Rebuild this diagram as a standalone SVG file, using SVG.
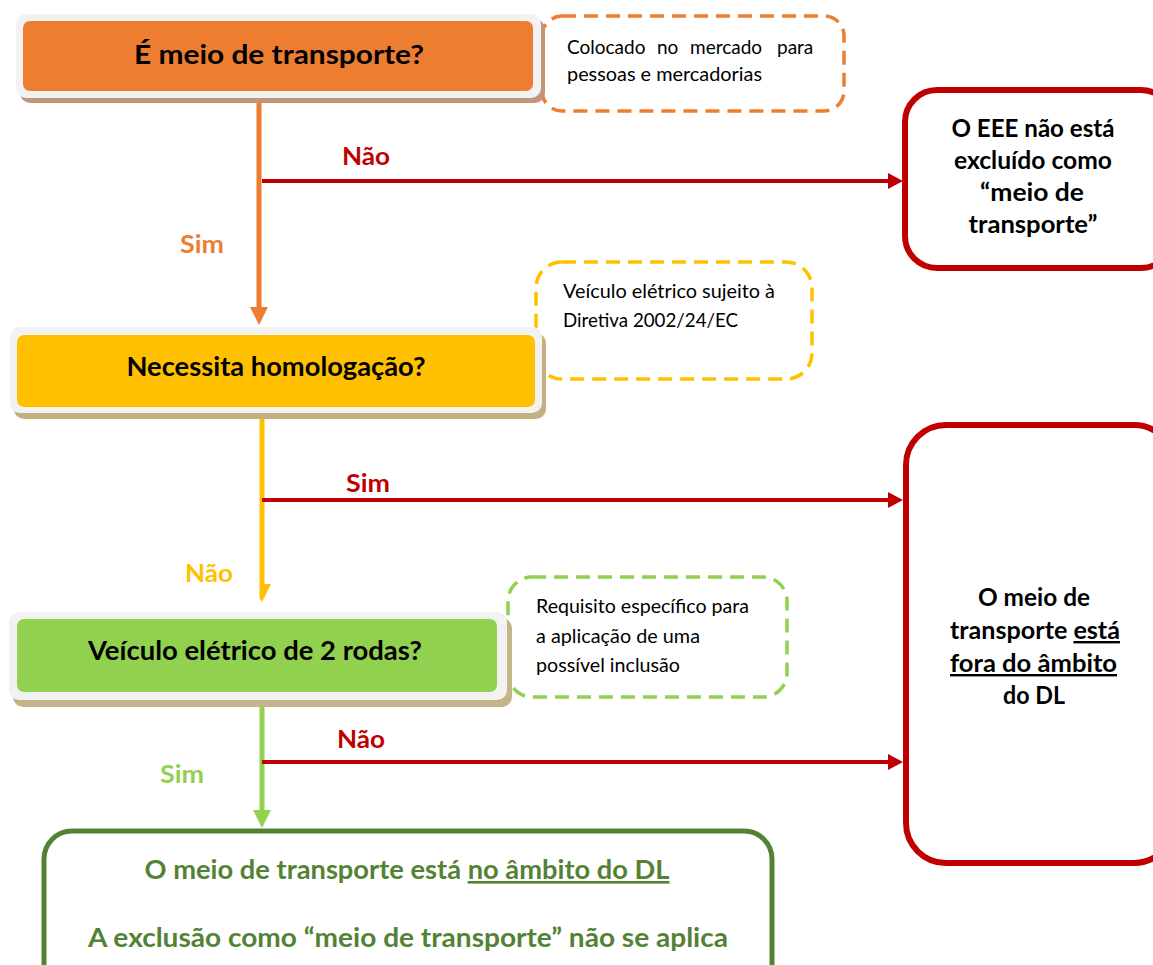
<svg xmlns="http://www.w3.org/2000/svg" width="1153" height="965" viewBox="0 0 1153 965">
<style>
.b{font-family:Lato,"Open Sans","Liberation Sans",sans-serif;font-weight:bold;}
.r{font-family:Lato,"Open Sans","Liberation Sans",sans-serif;font-weight:normal;font-size:19px;fill:#000;}
.title{font-size:26px;fill:#000;text-anchor:middle;}
.res{font-size:24px;fill:#000;text-anchor:middle;}
.lab{font-size:25px;text-anchor:middle;}
.fin{font-size:26px;fill:#548235;text-anchor:middle;}
.call{fill:none;stroke-width:3.5;stroke-dasharray:14 8;}
.frame{fill:#F2F2F2;}
.redbox{fill:#fff;stroke:#C00000;stroke-width:6;}
.red{stroke:#C00000;stroke-width:4;fill:none;}
.u{text-decoration:underline;}
</style>
<defs>
<marker id="arR" markerUnits="userSpaceOnUse" markerWidth="15" markerHeight="16" refX="2" refY="8" orient="auto"><path d="M0,0 L15,8 L0,16 Z" fill="#C00000"/></marker>
<marker id="arO" markerUnits="userSpaceOnUse" markerWidth="18" markerHeight="18" refX="2" refY="9" orient="auto"><path d="M0,0 L18,9 L0,18 Z" fill="#ED7D31"/></marker>
<marker id="arG" markerUnits="userSpaceOnUse" markerWidth="18" markerHeight="18" refX="2" refY="9" orient="auto"><path d="M0,0 L18,9 L0,18 Z" fill="#92D050"/></marker>
</defs>
<rect width="1153" height="965" fill="#fff"/>

<g id="note1">
<rect class="call" x="542" y="16" width="302" height="95" rx="20" stroke="#ED7D31"/>
<text class="r"><tspan x="567" y="54">Colocado</tspan><tspan x="657" y="54">no</tspan><tspan x="690" y="54">mercado</tspan><tspan x="777" y="54">para</tspan><tspan x="567" y="81" textLength="195" lengthAdjust="spacingAndGlyphs">pessoas e mercadorias</tspan></text>
</g>
<g id="note2">
<rect class="call" x="536" y="262" width="276" height="117" rx="26" stroke="#FFC000"/>
<text class="r" x="563" y="298" textLength="212" lengthAdjust="spacingAndGlyphs">Veículo elétrico sujeito à</text>
<text class="r" x="563" y="327" textLength="175" lengthAdjust="spacingAndGlyphs">Diretiva 2002/24/EC</text>
</g>
<g id="note3">
<rect class="call" x="508" y="577" width="279" height="120" rx="24" stroke="#92D050"/>
<text class="r" x="536" y="613" textLength="213" lengthAdjust="spacingAndGlyphs">Requisito específico para</text>
<text class="r" x="536" y="643" textLength="164" lengthAdjust="spacingAndGlyphs">a aplicação de uma</text>
<text class="r" x="536" y="672" textLength="144" lengthAdjust="spacingAndGlyphs">possível inclusão</text>
</g>

<g id="connectors">
<line x1="259" y1="98" x2="259" y2="309" stroke="#ED7D31" stroke-width="5" marker-end="url(#arO)"/>
<line x1="262" y1="413" x2="262" y2="585" stroke="#FFC000" stroke-width="5"/>
<polygon points="259.5,584 271,584 262,602 259.5,598" fill="#FFC000"/>
<line x1="262" y1="700" x2="262" y2="812" stroke="#92D050" stroke-width="5" marker-end="url(#arG)"/>
<line class="red" x1="262" y1="181" x2="890" y2="181" marker-end="url(#arR)"/>
<line class="red" x1="262" y1="500" x2="890" y2="500" marker-end="url(#arR)"/>
<line class="red" x1="262" y1="762" x2="890" y2="762" marker-end="url(#arR)"/>
<text class="b lab" x="366" y="165" fill="#C00000" textLength="48" lengthAdjust="spacingAndGlyphs">Não</text>
<text class="b lab" x="202" y="253" fill="#ED7D31" textLength="44" lengthAdjust="spacingAndGlyphs">Sim</text>
<text class="b lab" x="368" y="492" fill="#C00000" textLength="44" lengthAdjust="spacingAndGlyphs">Sim</text>
<text class="b lab" x="209" y="582" fill="#FFC000" textLength="48" lengthAdjust="spacingAndGlyphs">Não</text>
<text class="b lab" x="361" y="748" fill="#C00000" textLength="48" lengthAdjust="spacingAndGlyphs">Não</text>
<text class="b lab" x="182" y="783" fill="#92D050" textLength="44" lengthAdjust="spacingAndGlyphs">Sim</text>
</g>

<g id="q1">
<rect x="20" y="19" width="525" height="84" rx="10" fill="#C0967B"/>
<rect class="frame" x="16" y="14" width="525" height="84" rx="10"/>
<rect x="23" y="21" width="510" height="70" rx="7" fill="#ED7D31"/>
<text class="b title" x="279" y="64" textLength="290" lengthAdjust="spacingAndGlyphs">É meio de transporte?</text>
</g>
<g id="q2">
<rect x="14" y="333" width="532" height="86" rx="10" fill="#C4AF7E"/>
<rect class="frame" x="10" y="327" width="532" height="86" rx="10"/>
<rect x="17" y="335" width="518" height="72" rx="7" fill="#FFC000"/>
<text class="b title" x="276" y="376" textLength="299" lengthAdjust="spacingAndGlyphs">Necessita homologação?</text>
</g>
<g id="q3">
<rect x="13" y="618" width="499" height="89" rx="10" fill="#C4B48A"/>
<rect class="frame" x="9" y="612" width="498" height="88" rx="10"/>
<rect x="17" y="619" width="480" height="73" rx="7" fill="#92D050"/>
<text class="b title" x="255" y="660" textLength="334" lengthAdjust="spacingAndGlyphs">Veículo elétrico de 2 rodas?</text>
</g>

<g id="r1">
<rect class="redbox" x="905" y="90" width="268" height="178" rx="32"/>
<text class="b res" x="1033" y="137" textLength="163" lengthAdjust="spacingAndGlyphs">O EEE não está</text>
<text class="b res" x="1033" y="169" textLength="158" lengthAdjust="spacingAndGlyphs">excluído como</text>
<text class="b res" x="1032" y="201" textLength="104" lengthAdjust="spacingAndGlyphs">“meio de</text>
<text class="b res" x="1033" y="233" textLength="129" lengthAdjust="spacingAndGlyphs">transporte”</text>
</g>
<g id="r2">
<rect class="redbox" x="906" y="425" width="268" height="438" rx="40"/>
<text class="b res" x="1034" y="606" textLength="112" lengthAdjust="spacingAndGlyphs">O meio de</text>
<text class="b res" x="1035" y="639" textLength="170" lengthAdjust="spacingAndGlyphs">transporte <tspan class="u">está</tspan></text>
<text class="b res u" x="1033.5" y="672" textLength="167" lengthAdjust="spacingAndGlyphs">fora do âmbito</text>
<text class="b res" x="1034" y="704" textLength="62" lengthAdjust="spacingAndGlyphs">do DL</text>
</g>
<g id="final">
<rect x="44" y="831" width="728" height="170" rx="28" fill="#fff" stroke="#548235" stroke-width="5"/>
<text class="b fin" x="407" y="879" textLength="525" lengthAdjust="spacingAndGlyphs">O meio de transporte está <tspan class="u">no âmbito do DL</tspan></text>
<text class="b fin" x="408" y="947" textLength="640" lengthAdjust="spacingAndGlyphs">A exclusão como “meio de transporte” não se aplica</text>
</g>
</svg>
